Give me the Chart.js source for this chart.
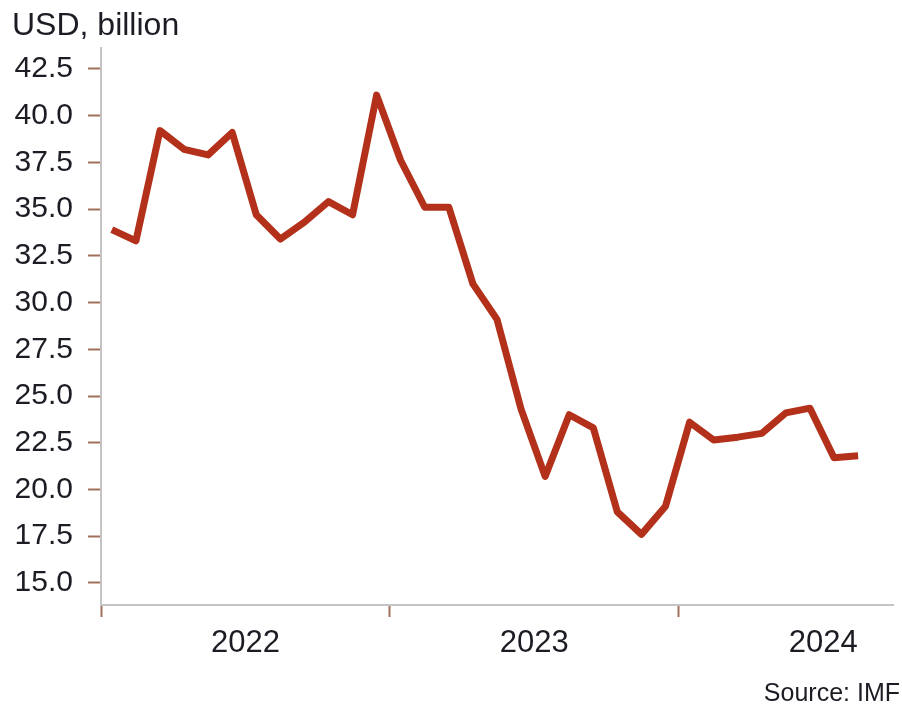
<!DOCTYPE html>
<html>
<head>
<meta charset="utf-8">
<script src="https://cdn.jsdelivr.net/npm/chart.js@4.4.1/dist/chart.umd.min.js"></script>
<style>
  html,body{margin:0;padding:0;background:#fff;}
  #wrap{width:902px;height:706px;position:relative;}
</style>
</head>
<body>
<div id="wrap"><canvas id="c" width="902" height="706"></canvas></div>
<script>
// months (Jan 2022 .. Aug 2024)
const months = [
  'Jan 2022','Feb 2022','Mar 2022','Apr 2022','May 2022','Jun 2022','Jul 2022','Aug 2022','Sep 2022','Oct 2022','Nov 2022','Dec 2022',
  'Jan 2023','Feb 2023','Mar 2023','Apr 2023','May 2023','Jun 2023','Jul 2023','Aug 2023','Sep 2023','Oct 2023','Nov 2023','Dec 2023',
  'Jan 2024','Feb 2024','Mar 2024','Apr 2024','May 2024','Jun 2024','Jul 2024','Aug 2024'
];
const values = [
  33.9, 33.3, 39.2, 38.2, 37.9, 39.1, 34.7, 33.4, 34.3, 35.4, 34.7, 41.1,
  37.6, 35.1, 35.1, 31.0, 29.1, 24.3, 20.7, 24.0, 23.3, 18.8, 17.6, 19.1,
  23.6, 22.65, 22.8, 23.0, 24.1, 24.35, 21.7, 21.8
];
const years = ['2022','2023','2024'];
const yTicks = [15, 17.5, 20, 22.5, 25, 27.5, 30, 32.5, 35, 37.5, 40, 42.5];
const unitLabel = 'USD, billion';
const sourceLabel = 'Source: IMF';

const LINE = '#b3301a';
const TICKMARK = '#a0705a';
const AXIS = '#c4c4c4';
const TXT = '#1c1c24';

// x positions: month index, centred inside its month
const pts = values.map((v,i)=>({x:i+0.45, y:v}));

const textPlugin = {
  id:'texts',
  afterDraw(chart){
    const {ctx} = chart;
    ctx.save();
    ctx.fillStyle = TXT;
    ctx.textBaseline = 'alphabetic';
    ctx.font = '32px "Liberation Sans", Arial, sans-serif';
    ctx.textAlign = 'left';
    ctx.fillText(unitLabel, 12, 35);
    ctx.font = '25px "Liberation Sans", Arial, sans-serif';
    ctx.textAlign = 'right';
    ctx.fillText(sourceLabel, 900, 701);
    ctx.restore();
  }
};

new Chart(document.getElementById('c'), {
  type:'line',
  data:{ datasets:[{ data:pts, borderColor:LINE, borderWidth:7, pointRadius:0, tension:0, borderJoinStyle:'round', fill:false }] },
  options:{
    responsive:false, animation:false, maintainAspectRatio:false,
    layout:{ padding:{ top:48, right:9, bottom:0, left:0 } },
    plugins:{ legend:{display:false}, tooltip:{enabled:false} },
    scales:{
      x:{
        type:'linear', min:0, max:32.9,
        afterBuildTicks(axis){ axis.ticks = [0,6,12,18,24,30].map(v=>({value:v})); },
        afterFit(axis){ axis.height = 101; },
        border:{ color:AXIS, width:2 },
        grid:{ drawOnChartArea:false, drawTicks:true, tickLength:12, tickWidth:2,
          tickColor:(c)=> (c.tick && c.tick.value % 12 === 0) ? TICKMARK : 'rgba(0,0,0,0)' },
        ticks:{ autoSkip:false, maxRotation:0, padding:8, color:TXT,
          font:{ family:'"Liberation Sans", Arial, sans-serif', size:31 },
          callback:(v)=> v % 12 === 6 ? years[(v-6)/12] : '' }
      },
      y:{
        min:13.82, max:43.62,
        afterBuildTicks(axis){ axis.ticks = yTicks.map(v=>({value:v})); },
        afterFit(axis){ axis.width = 101; },
        border:{ color:AXIS, width:2 },
        grid:{ drawOnChartArea:false, drawTicks:true, tickLength:13, tickWidth:2, tickColor:TICKMARK },
        ticks:{ padding:15, color:TXT,
          font:{ family:'"Liberation Sans", Arial, sans-serif', size:30 },
          callback:(v)=> Number(v).toFixed(1) }
      }
    }
  },
  plugins:[textPlugin]
});
</script>
</body>
</html>
